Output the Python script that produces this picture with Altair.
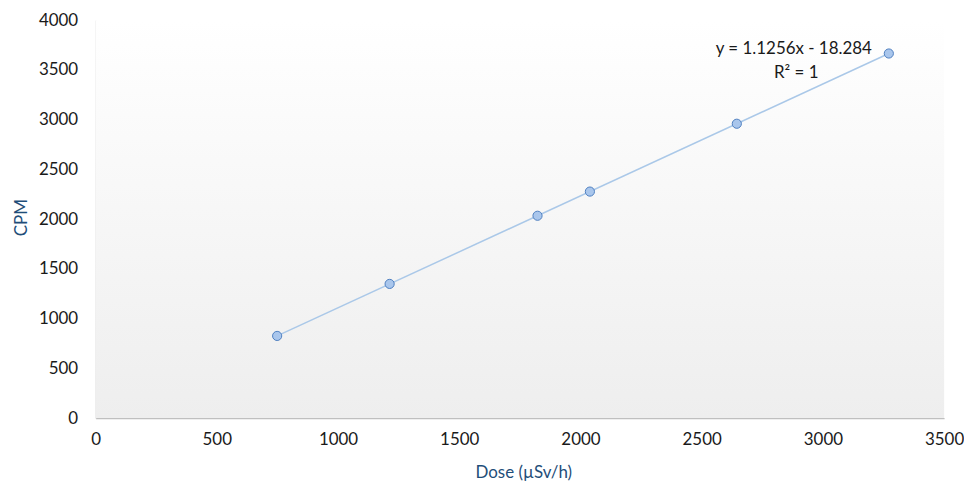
import altair as alt
import pandas as pd

dose = [749, 1213, 1823, 2039, 2645, 3272]
cpm = [826, 1349, 2034, 2277, 2959, 3665]
x_ticks = [0, 500, 1000, 1500, 2000, 2500, 3000, 3500]
y_ticks = [0, 500, 1000, 1500, 2000, 2500, 3000, 3500, 4000]
eq_lines = ["y = 1.1256x  - 18.284", "R² = 1"]

df = pd.DataFrame({"dose": dose, "cpm": cpm})

W, H = 853, 400
FONT = "Lato"
FS = 17

xs = alt.Scale(domain=[0, 3500], nice=False, zero=False)
ys = alt.Scale(domain=[0, 4000], nice=False, zero=False)

bg = alt.Chart(pd.DataFrame({"a": [0]})).mark_rect(
    color=alt.LinearGradient(
        gradient="linear",
        stops=[alt.GradientStop(color="#ffffff", offset=0),
               alt.GradientStop(color="#eeeeee", offset=1)],
        x1=0, x2=0, y1=0, y2=1),
).encode(x=alt.value(0), x2=alt.value(W), y=alt.value(0), y2=alt.value(H))

base = alt.Chart(df)

xaxis = alt.Axis(values=x_ticks, format="d", title="Dose (µSv/h)", grid=False, ticks=False,
                 labelFlush=False,
                 domainColor="#bfbfbf", domainWidth=1.2, labelFont=FONT, labelFontSize=FS,
                 labelColor="#1a1a1a", labelPadding=14, titleFont=FONT, titleFontSize=FS,
                 titleFontWeight="normal", titleColor="#1f4e79",
                 titleX=430, titleY=55, titleBaseline="middle", titleAlign="center")
yaxis = alt.Axis(values=y_ticks, format="d", title="CPM", grid=False, ticks=False,
                 labelFlush=False,
                 domainColor="#d9d9d9", labelFont=FONT, labelFontSize=FS,
                 labelColor="#1a1a1a", labelPadding=18, titleFont=FONT, titleFontSize=FS,
                 titleFontWeight="normal", titleColor="#1f4e79",
                 titleX=-74, titleY=198, titleAngle=-90, titleBaseline="middle",
                 titleAlign="center")

line = base.transform_regression("dose", "cpm").mark_line(
    color="#aac8e8", strokeWidth=1.5
).encode(x=alt.X("dose:Q", scale=xs, axis=xaxis), y=alt.Y("cpm:Q", scale=ys, axis=yaxis))

pts = base.mark_point(
    shape="circle", filled=True, fill="#a9c6ec", stroke="#4f7fc0", strokeWidth=1,
    size=85, opacity=1
).encode(x=alt.X("dose:Q", scale=xs), y=alt.Y("cpm:Q", scale=ys))

eq1 = alt.Chart(pd.DataFrame({"t": [eq_lines[0]]})).mark_text(
    font=FONT, fontSize=FS, color="#1a1a1a", align="center", baseline="middle"
).encode(x=alt.datum(2880, scale=xs), y=alt.datum(3710, scale=ys), text="t:N")
eq2 = alt.Chart(pd.DataFrame({"t": [eq_lines[1]]})).mark_text(
    font=FONT, fontSize=FS, color="#1a1a1a", align="center", baseline="middle"
).encode(x=alt.datum(2890, scale=xs), y=alt.datum(3465, scale=ys), text="t:N")

chart = alt.layer(bg, line, pts, eq1, eq2).properties(
    width=W, height=H,
    autosize=alt.AutoSizeParams(type="none"),
    padding={"left": 88, "top": 11, "right": 20, "bottom": 64},
    background="#ffffff",
).configure_view(stroke=None)

chart.save("out.html", embed_options={"renderer": "svg", "actions": False})
